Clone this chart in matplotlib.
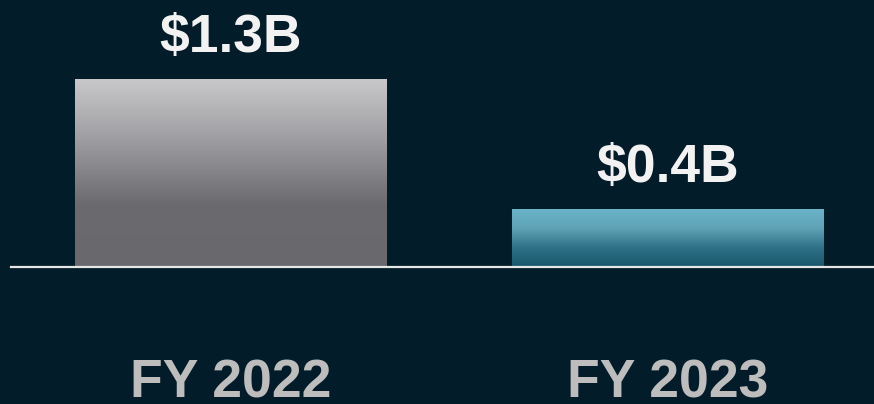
import matplotlib.pyplot as plt
import numpy as np
from matplotlib.colors import LinearSegmentedColormap

anos = ['FY 2022', 'FY 2023']
valores = [1.3, 0.4]
rotulos = ['$1.3B', '$0.4B']

fundo = '#021c29'
gradientes = [
    ['#c9c9cb', '#9d9da1', '#6b6b6f', '#69696d'],   # cinza
    ['#6bb4c9', '#5fa2b6', '#2f7287', '#17566b'],   # azul
]

plt.rcParams['font.family'] = ['Liberation Sans', 'DejaVu Sans']

fig = plt.figure(figsize=(8.74, 4.04), dpi=100, facecolor=fundo)
ax = fig.add_axes([0, 0, 1, 1])
ax.set_facecolor(fundo)

x = np.arange(len(anos))
largura = 0.712
barras = ax.bar(x, valores, width=largura, color='none', linewidth=0)

# preenche cada barra com um gradiente vertical
for b, cores in zip(barras, gradientes):
    cmap = LinearSegmentedColormap.from_list('g', cores[::-1])
    grad = np.linspace(0, 1, 256).reshape(-1, 1)
    im = ax.imshow(grad, cmap=cmap, origin='lower', aspect='auto',
                   extent=[b.get_x(), b.get_x() + b.get_width(), 0, b.get_height()],
                   zorder=2)
    im.set_clip_path(b)

ax.axhline(0, xmin=11 / 874, xmax=1, color='#e6e6e6', linewidth=1.6, zorder=3)

for xi, v, r in zip(x, valores, rotulos):
    ax.annotate(r, (xi, v), xytext=(0, 19.5), textcoords='offset points',
                ha='center', va='baseline', color='#f2f2f2',
                fontsize=38.5, fontweight='bold')

for xi, a in zip(x, anos):
    ax.annotate(a, (xi, 0), xytext=(0, -94), textcoords='offset points',
                ha='center', va='baseline', color='#bdbdbd',
                fontsize=38.5, fontweight='bold')

ax.set_xlim(-0.527, 1.4725)
ax.set_ylim(-0.947, 1.846)
ax.axis('off')

fig.savefig('out.png', dpi=100, facecolor=fundo)
